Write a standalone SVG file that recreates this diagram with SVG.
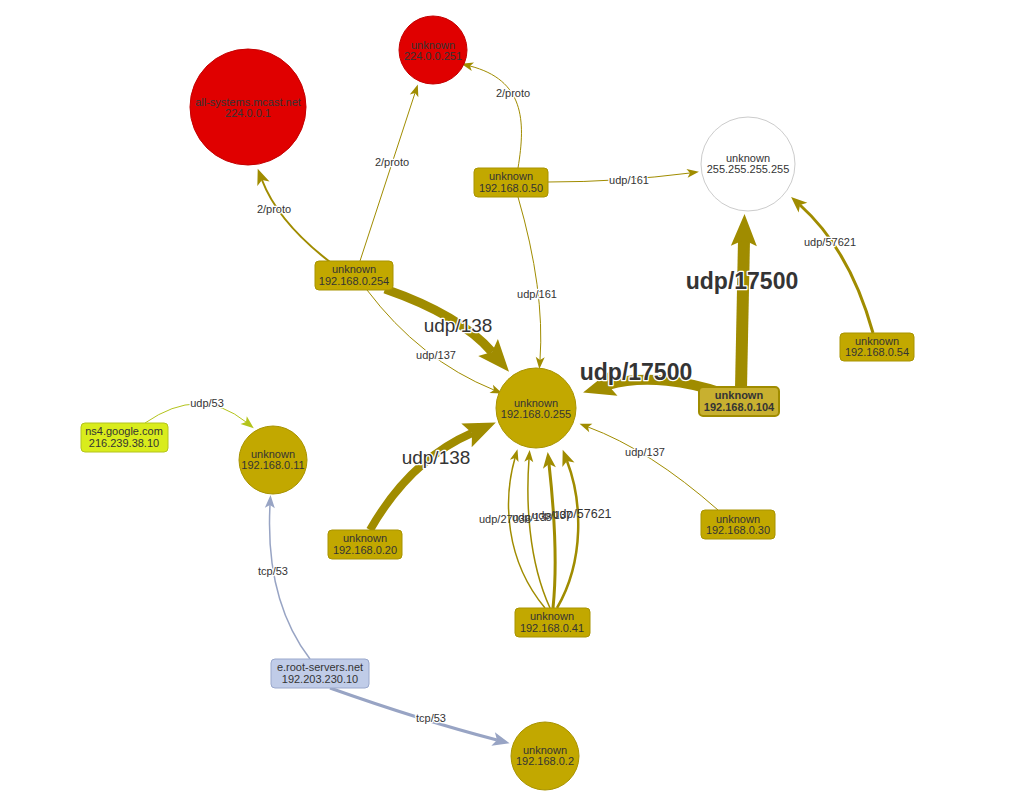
<svg xmlns="http://www.w3.org/2000/svg" width="1024" height="800" viewBox="0 0 1024 800">
<style>
text{font-family:"Liberation Sans",Arial,sans-serif;fill:#343434;text-anchor:middle}
.nt{font-size:11px}
.lbl{font-size:11px;stroke:#fff;stroke-width:2.5;paint-order:stroke;stroke-linejoin:round}
.nh{font-size:11px}
.big{font-size:19px}
.bold{font-size:23px;font-weight:bold}
.e{fill:none;stroke:#a08c00}
.g{fill:#c2a800;stroke:#a89300;stroke-width:1}
.r{fill:#e00000;stroke:#c40000;stroke-width:1}
</style>
<defs>
<marker id="as" markerUnits="userSpaceOnUse" markerWidth="20" markerHeight="20" refX="3" refY="0" viewBox="-2 -10 20 20" orient="auto" overflow="visible"><path d="M0,-4.5 L12,0 L0,4.5 L3,0 z" fill="#a08c00"/></marker>
<marker id="am" markerUnits="userSpaceOnUse" markerWidth="30" markerHeight="30" refX="4" refY="0" viewBox="-2 -15 30 30" orient="auto" overflow="visible"><path d="M0,-6.5 L16,0 L0,6.5 L4,0 z" fill="#a08c00"/></marker>
<marker id="al" markerUnits="userSpaceOnUse" markerWidth="50" markerHeight="50" refX="6" refY="0" viewBox="-2 -25 50 50" orient="auto" overflow="visible"><path d="M0,-13 L32,0 L0,13 L6,0 z" fill="#a08c00"/></marker>
<marker id="ay" markerUnits="userSpaceOnUse" markerWidth="20" markerHeight="20" refX="3" refY="0" viewBox="-2 -10 20 20" orient="auto" overflow="visible"><path d="M0,-5 L13,0 L0,5 L3,0 z" fill="#b4c41c"/></marker>
<marker id="ab" markerUnits="userSpaceOnUse" markerWidth="20" markerHeight="20" refX="3" refY="0" viewBox="-2 -10 20 20" orient="auto" overflow="visible"><path d="M0,-5 L13,0 L0,5 L3,0 z" fill="#98a4c4"/></marker>
<marker id="abm" markerUnits="userSpaceOnUse" markerWidth="30" markerHeight="30" refX="4" refY="0" viewBox="-2 -15 30 30" orient="auto" overflow="visible"><path d="M0,-7 L17,0 L0,7 L4,0 z" fill="#98a4c4"/></marker>
</defs>
<g id="edges">
<path class="e" d="M330,262 Q278,222 262,180" stroke-width="2" marker-end="url(#am)"/>
<path class="e" d="M360,261 L415,93" stroke-width="1" marker-end="url(#as)"/>
<path class="e" d="M518,168 C526,120 524,80 470,66" stroke-width="1" marker-end="url(#as)"/>
<path class="e" d="M548,182 Q620,182 690,173" stroke-width="1" marker-end="url(#as)"/>
<path class="e" d="M518,197 Q545,290 540,360" stroke-width="1" marker-end="url(#as)"/>
<path class="e" d="M385,289 Q460,315 492,352" stroke-width="9" marker-end="url(#al)"/>
<path class="e" d="M367,290 Q420,360 494,390" stroke-width="1" marker-end="url(#as)"/>
<path class="e" d="M722,393 C690,382 645,374 608,385" stroke-width="10" marker-end="url(#al)"/>
<path class="e" d="M741,388 L744,240" stroke-width="12" marker-end="url(#al)"/>
<path class="e" d="M873,333 Q850,250 800,205" stroke-width="3" marker-end="url(#am)"/>
<path class="e" d="M718,510 Q650,450 588,427" stroke-width="1" marker-end="url(#as)"/>
<path class="e" d="M370,530 Q410,460 472,433" stroke-width="8" marker-end="url(#al)"/>
<path class="e" d="M545,608 C505,560 503,500 515,458" stroke-width="1.5" marker-end="url(#as)"/>
<path class="e" d="M550,608 C528,560 526,500 529,459" stroke-width="1.5" marker-end="url(#as)"/>
<path class="e" d="M553,608 C558,560 553,500 549,464" stroke-width="3" marker-end="url(#am)"/>
<path class="e" d="M557,608 C585,560 582,500 567,461" stroke-width="2.5" marker-end="url(#am)"/>
<path fill="none" stroke="#b4c41c" stroke-width="1" d="M145,423 Q200,385 246,422" marker-end="url(#ay)"/>
<path fill="none" stroke="#98a4c4" stroke-width="1.5" d="M310,659 Q265,600 270,505" marker-end="url(#ab)"/>
<path fill="none" stroke="#98a4c4" stroke-width="3" d="M330,688 Q420,720 497,740" marker-end="url(#abm)"/>
<text class="lbl" x="274" y="213">2/proto</text>
<text class="lbl" x="392" y="166">2/proto</text>
<text class="lbl" x="513" y="97">2/proto</text>
<text class="lbl" x="629" y="184">udp/161</text>
<text class="lbl" x="537" y="298">udp/161</text>
<text class="lbl big" x="458" y="332">udp/138</text>
<text class="lbl" x="436" y="359">udp/137</text>
<text class="lbl bold" x="636" y="380">udp/17500</text>
<text class="lbl bold" x="742" y="289">udp/17500</text>
<text class="lbl" x="830" y="246">udp/57621</text>
<text class="lbl" x="645" y="456">udp/137</text>
<text class="lbl big" x="436" y="464">udp/138</text>
<text class="nh" x="505" y="523">udp/27036</text>
<text class="nh" x="532" y="521">udp/138</text>
<text class="nh" x="552" y="519">udp/137</text>
<text class="nh" x="582" y="518" style="font-size:12.5px">udp/57621</text>
<text class="lbl" x="207" y="407">udp/53</text>
<text class="lbl" x="273" y="575">tcp/53</text>
<text class="lbl" x="431" y="722">tcp/53</text>
</g>
<g id="n224-0-0-1"><circle class="r" cx="248" cy="107" r="58"/><text class="nt" x="248" y="106">all-systems.mcast.net</text><text class="nt" x="248" y="117">224.0.0.1</text></g>
<g id="n224-0-0-251"><circle class="r" cx="433" cy="50" r="34"/><text class="nt" x="433" y="49">unknown</text><text class="nt" x="433" y="60">224.0.0.251</text></g>
<g id="n255-255-255-255"><circle cx="748" cy="164" r="47" fill="#fff" stroke="#cccccc"/><text class="nt" x="748" y="162">unknown</text><text class="nt" x="748" y="173">255.255.255.255</text></g>
<g id="n192-168-0-50"><rect class="g" x="474" y="168" width="74" height="29" rx="4"/><text class="nt" x="511" y="180">unknown</text><text class="nt" x="511" y="192">192.168.0.50</text></g>
<g id="n192-168-0-254"><rect class="g" x="315" y="261" width="78" height="29" rx="4"/><text class="nt" x="354" y="273">unknown</text><text class="nt" x="354" y="285">192.168.0.254</text></g>
<g id="n192-168-0-255"><circle class="g" cx="536" cy="408" r="40"/><text class="nt" x="536" y="407">unknown</text><text class="nt" x="536" y="418">192.168.0.255</text></g>
<g id="n192-168-0-104"><rect x="699" y="387" width="80" height="29" rx="4" fill="#c8b030" stroke="#a08c00" stroke-width="2"/><text class="nt" x="739" y="399" style="font-weight:bold">unknown</text><text class="nt" x="739" y="411" style="font-weight:bold">192.168.0.104</text></g>
<g id="n192-168-0-54"><rect class="g" x="840" y="333" width="74" height="28" rx="4"/><text class="nt" x="877" y="345">unknown</text><text class="nt" x="877" y="356">192.168.0.54</text></g>
<g id="n216-239-38-10"><rect x="81" y="423" width="87" height="29" rx="4" fill="#d9ec1c" stroke="#b4c41c"/><text class="nt" x="124" y="435">ns4.google.com</text><text class="nt" x="124" y="447">216.239.38.10</text></g>
<g id="n192-168-0-11"><circle class="g" cx="273" cy="460" r="34"/><text class="nt" x="273" y="458">unknown</text><text class="nt" x="273" y="469">192.168.0.11</text></g>
<g id="n192-168-0-20"><rect class="g" x="328" y="530" width="74" height="29" rx="4"/><text class="nt" x="365" y="542">unknown</text><text class="nt" x="365" y="554">192.168.0.20</text></g>
<g id="n192-168-0-30"><rect class="g" x="701" y="510" width="74" height="29" rx="4"/><text class="nt" x="738" y="523">unknown</text><text class="nt" x="738" y="534">192.168.0.30</text></g>
<g id="n192-168-0-41"><rect class="g" x="515" y="608" width="75" height="29" rx="4"/><text class="nt" x="552" y="620">unknown</text><text class="nt" x="552" y="632">192.168.0.41</text></g>
<g id="n192-203-230-10"><rect x="271" y="659" width="98" height="29" rx="4" fill="#c0cce8" stroke="#9aa8cc"/><text class="nt" x="320" y="671">e.root-servers.net</text><text class="nt" x="320" y="683">192.203.230.10</text></g>
<g id="n192-168-0-2"><circle class="g" cx="545" cy="756" r="34"/><text class="nt" x="545" y="754">unknown</text><text class="nt" x="545" y="765">192.168.0.2</text></g>
</svg>
